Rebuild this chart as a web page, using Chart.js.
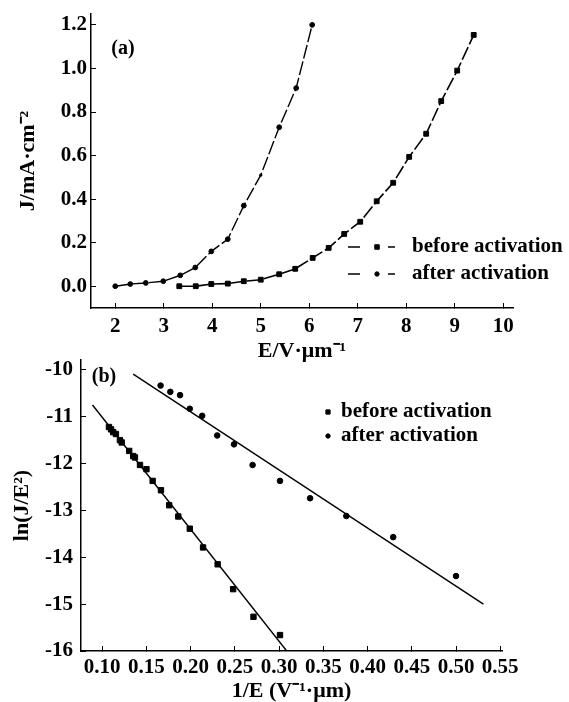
<!DOCTYPE html>
<html><head><meta charset="utf-8">
<script src="https://cdn.jsdelivr.net/npm/chart.js@4/dist/chart.umd.min.js"></script>
<style>
html,body{margin:0;padding:0;background:#fff;width:569px;height:702px;overflow:hidden;position:relative}
#wa{position:absolute;left:0;top:0;width:569px;height:365px}
#wb{position:absolute;left:0;top:350px;width:569px;height:355px}
</style></head><body>
<div id="wa"><canvas id="ca"></canvas></div>
<div id="wb"><canvas id="cb"></canvas></div>
<script>
// ---------- data: panel (a) J-E curves ----------
const seriesLabels = ['before activation', 'after activation'];
const eBefore = [3.32, 3.66, 3.98, 4.32, 4.65, 5.00, 5.38, 5.71, 6.07, 6.40, 6.72, 7.05, 7.39, 7.73, 8.06, 8.41, 8.72, 9.05, 9.39];
const jBefore = [0.000, 0.000, 0.010, 0.012, 0.023, 0.030, 0.055, 0.080, 0.130, 0.176, 0.240, 0.296, 0.390, 0.475, 0.594, 0.700, 0.850, 0.990, 1.154];
const eAfter = [2.00, 2.31, 2.63, 2.99, 3.34, 3.65, 3.98, 4.32, 4.65, 5.00, 5.38, 5.73, 6.06];
const jAfter = [0.000, 0.010, 0.015, 0.023, 0.050, 0.086, 0.160, 0.216, 0.370, 0.510, 0.730, 0.910, 1.200];
const xTicksA = [2, 3, 4, 5, 6, 7, 8, 9, 10];
const yTicksA = [0.0, 0.2, 0.4, 0.6, 0.8, 1.0, 1.2];

// ---------- data: panel (b) F-N plot ----------
const invBefore = [0.1076, 0.1100, 0.1124, 0.1155, 0.1200, 0.1220, 0.1305, 0.1350, 0.1370, 0.1427, 0.1500, 0.1570, 0.1664, 0.1757, 0.1860, 0.1990, 0.2140, 0.2305, 0.2480, 0.2710, 0.3010];
const lnBefore = [-11.22, -11.27, -11.33, -11.37, -11.50, -11.55, -11.73, -11.84, -11.87, -12.03, -12.12, -12.37, -12.57, -12.89, -13.13, -13.39, -13.79, -14.15, -14.68, -15.27, -15.66];
const invAfter = [0.166, 0.177, 0.188, 0.199, 0.213, 0.230, 0.249, 0.270, 0.301, 0.335, 0.376, 0.429, 0.500];
const lnAfter = [-10.335, -10.47, -10.54, -10.83, -10.98, -11.40, -11.59, -12.03, -12.37, -12.74, -13.12, -13.57, -14.40];
const fitBeforeX = [0.089, 0.3086];
const fitBeforeY = [-10.75, -16.0];
const fitAfterX = [0.135, 0.531];
const fitAfterY = [-10.09, -15.0];
const xTicksB = [0.10, 0.15, 0.20, 0.25, 0.30, 0.35, 0.40, 0.45, 0.50, 0.55];
const yTicksB = [-16, -15, -14, -13, -12, -11, -10];

const pts = (xs, ys) => xs.map((x, i) => ({x: x, y: ys[i]}));

const FAM = '"Liberation Serif", "Times New Roman", serif';
const TF = 21;
Chart.defaults.font.family = FAM;
Chart.defaults.font.weight = 'bold';
Chart.defaults.font.size = TF;
Chart.defaults.color = '#000';

const decor = {
  id: 'panelDecor',
  afterDraw(chart, args, o) {
    const ctx = chart.ctx;
    ctx.save();
    ctx.fillStyle = '#000';
    ctx.strokeStyle = '#000';
    ctx.font = 'bold 20px ' + FAM;
    ctx.textAlign = 'center';
    ctx.textBaseline = 'middle';
    ctx.fillText(o.label, o.lx, o.ly);
    const lg = o.legend;
    lg.items.forEach((di, k) => {
      const ds = chart.data.datasets[di];
      const y = lg.y + k * lg.dy;
      if (lg.dashes) {
        ctx.lineWidth = 1.6;
        ctx.setLineDash([]);
        ctx.beginPath();
        ctx.moveTo(lg.x, y); ctx.lineTo(lg.x + 12, y);
        ctx.moveTo(lg.x + 40, y); ctx.lineTo(lg.x + 47, y);
        ctx.stroke();
      }
      ctx.lineWidth = 1;
      Chart.helpers.drawPoint(ctx, {pointStyle: ds.pointStyle, radius: lg.r[k], rotation: 0, borderWidth: 1}, lg.mx, y);
      ctx.font = 'bold 21px ' + FAM;
      ctx.textAlign = 'left';
      ctx.textBaseline = 'middle';
      ctx.fillText(ds.label, lg.tx, y);
    });
    ctx.restore();
  }
};

function xScale(min, max, ticks, fmt, h, pad, title) {
  return {
    type: 'linear', min: min, max: max,
    afterBuildTicks: s => { s.ticks = ticks.map(v => ({value: v})); },
    afterFit: s => { s.height = h; s.paddingLeft = 0; s.paddingRight = 0; },
    grid: {drawOnChartArea: false, drawTicks: true, tickLength: -5, color: '#000', lineWidth: 1},
    border: {display: true, color: '#000', width: 1.5},
    ticks: {padding: pad, autoSkip: false, maxRotation: 0, minRotation: 0, color: '#000', font: {size: TF, weight: 'bold'}, callback: fmt},
    title: {display: true, text: title, color: '#000', font: {size: 22, weight: 'bold'}, padding: {top: 0, bottom: 0}}
  };
}
function yScale(min, max, ticks, fmt, w, pad, title, tpad) {
  return {
    type: 'linear', min: min, max: max,
    afterBuildTicks: s => { s.ticks = ticks.map(v => ({value: v})); },
    afterFit: s => { s.width = w; s.paddingTop = 0; s.paddingBottom = 0; },
    grid: {drawOnChartArea: false, drawTicks: true, tickLength: -5, color: '#000', lineWidth: 1},
    border: {display: true, color: '#000', width: 1.5},
    ticks: {padding: pad, autoSkip: false, color: '#000', font: {size: TF, weight: 'bold'}, callback: fmt},
    title: {display: true, text: title, color: '#000', font: {size: 22, weight: 'bold'}, padding: {top: tpad, bottom: 0}}
  };
}

new Chart(document.getElementById('ca'), {
  type: 'line',
  data: {
    datasets: [
      {label: seriesLabels[0], data: pts(eBefore, jBefore), borderColor: '#000', backgroundColor: '#000',
       borderWidth: 1.6, borderDash: [14, 3], pointStyle: 'rect', pointRadius: 3.4, pointBorderWidth: 1, tension: 0},
      {label: seriesLabels[1], data: pts(eAfter, jAfter), borderColor: '#000', backgroundColor: '#000',
       borderWidth: 1.4, borderDash: [14, 3], pointStyle: 'circle',
       pointRadius: c => (c.dataIndex === 9 ? 1.2 : 2.4), pointBorderWidth: 1, tension: 0}
    ]
  },
  options: {
    responsive: true, maintainAspectRatio: false, animation: false, devicePixelRatio: 1,
    layout: {padding: {left: 0, top: 14, right: 56, bottom: 0}},
    plugins: {
      legend: {display: false}, tooltip: {enabled: false},
      panelDecor: {label: '(a)', lx: 123, ly: 49,
        legend: {items: [0, 1], x: 348, mx: 377, tx: 412, y: 247, dy: 27, dashes: true, r: [3.2, 2.2]}}
    },
    scales: {
      x: xScale(1.5, 10.2, xTicksA, v => String(v), 57, 11, 'E/V·μm⁻¹'),
      y: yScale(-0.1, 1.25, yTicksA, v => Number(v).toFixed(1), 91, 9, 'J/mA·cm⁻²', 15)
    }
  },
  plugins: [decor]
});

new Chart(document.getElementById('cb'), {
  type: 'scatter',
  data: {
    datasets: [
      {label: seriesLabels[0], data: pts(invBefore, lnBefore), borderColor: '#000', backgroundColor: '#000',
       pointStyle: 'rect', pointRadius: 3.8, pointBorderWidth: 1, showLine: false},
      {label: seriesLabels[1], data: pts(invAfter, lnAfter), borderColor: '#000', backgroundColor: '#000',
       pointStyle: 'circle', pointRadius: 2.8, pointBorderWidth: 1, showLine: false},
      {label: 'fit before', data: pts(fitBeforeX, fitBeforeY), borderColor: '#000', borderWidth: 1.4,
       pointRadius: 0, showLine: true, tension: 0},
      {label: 'fit after', data: pts(fitAfterX, fitAfterY), borderColor: '#000', borderWidth: 1.4,
       pointRadius: 0, showLine: true, tension: 0}
    ]
  },
  options: {
    responsive: true, maintainAspectRatio: false, animation: false, devicePixelRatio: 1,
    layout: {padding: {left: 0, top: 10, right: 67, bottom: 0}},
    plugins: {
      legend: {display: false}, tooltip: {enabled: false},
      panelDecor: {label: '(b)', lx: 104, ly: 27,
        legend: {items: [0, 1], mx: 328, tx: 341, y: 62, dy: 24, dashes: false, r: [3.0, 2.2]}}
    },
    scales: {
      x: xScale(0.076, 0.552, xTicksB, v => Number(v).toFixed(2), 54, 8.5, '1/E (V⁻¹·μm)'),
      y: yScale(-16, -9.79, yTicksB, v => String(v), 81, 13, 'ln(J/E²)', 9)
    }
  },
  plugins: [decor]
});
</script>
</body></html>
